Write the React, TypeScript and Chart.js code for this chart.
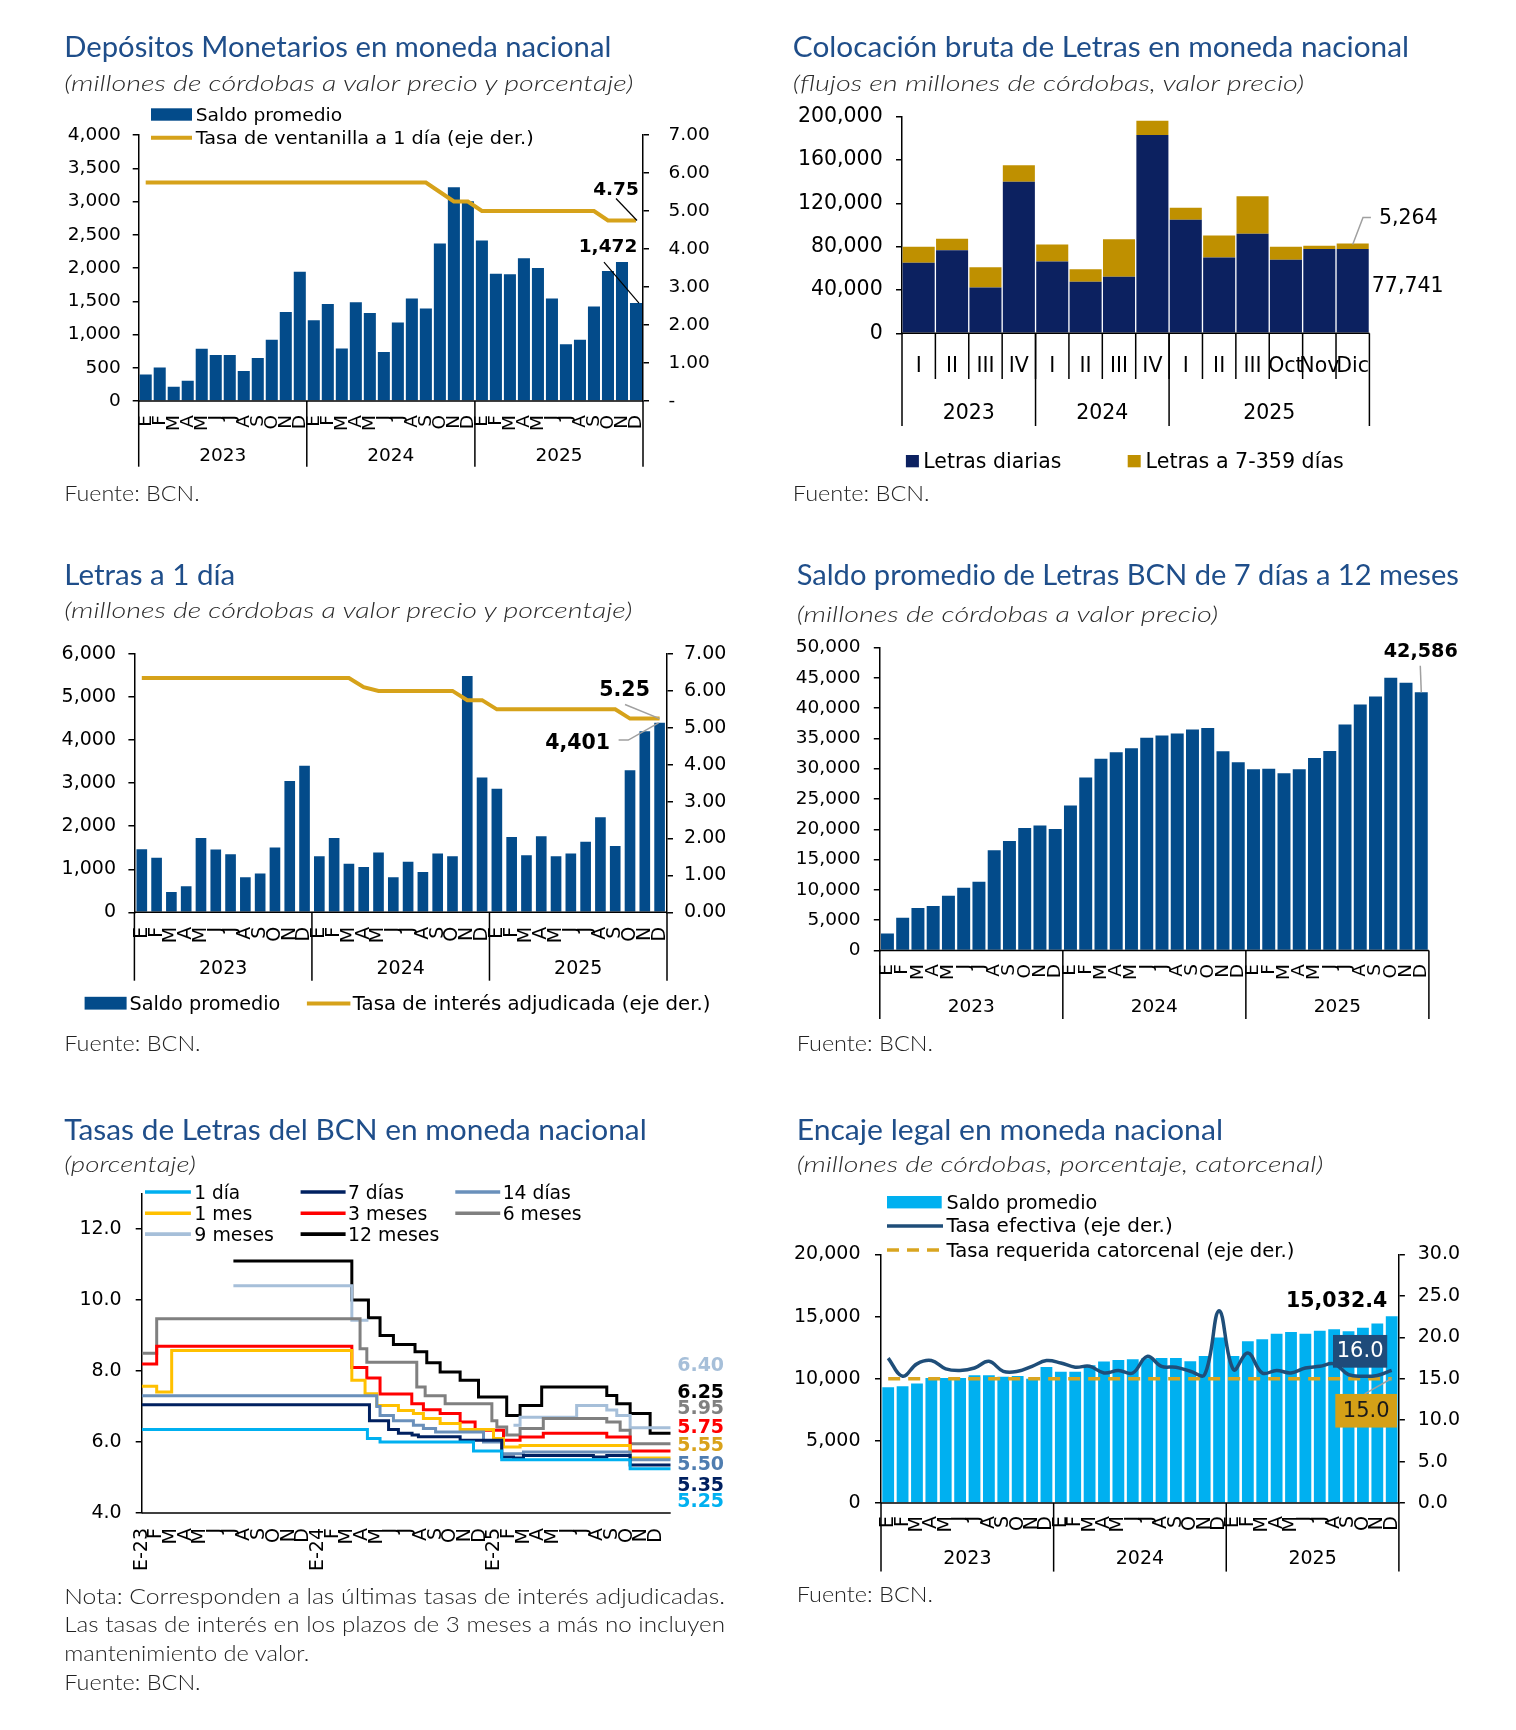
import React, { useEffect, useRef } from 'react';
import { Chart, registerables } from 'chart.js';

Chart.register(...registerables);
Chart.defaults.font.family = '"DejaVu Sans", Verdana, sans-serif';
Chart.defaults.color = '#000';

// ================= DATA =================
const MONTH_LETTERS = ['E', 'F', 'M', 'A', 'M', 'J', 'J', 'A', 'S', 'O', 'N', 'D'];
const MONTHS_36 = [...MONTH_LETTERS, ...MONTH_LETTERS, ...MONTH_LETTERS];
const YEARS = ['2023', '2024', '2025'];
const MONTHS_PER_YEAR = [12, 12, 12];

// Panel 1: Depósitos monetarios
const depositosSaldo = [400, 505, 215, 305, 785, 690, 690, 450, 645, 920, 1340, 1945,
  1215, 1460, 790, 1485, 1325, 735, 1180, 1540, 1390, 2370, 3215, 3005,
  2415, 1915, 1905, 2145, 2000, 1540, 855, 920, 1420, 1955, 2090, 1472];
const depositosTasa = [5.75, 5.75, 5.75, 5.75, 5.75, 5.75, 5.75, 5.75, 5.75, 5.75, 5.75, 5.75,
  5.75, 5.75, 5.75, 5.75, 5.75, 5.75, 5.75, 5.75, 5.75, 5.5, 5.25, 5.25,
  5.0, 5.0, 5.0, 5.0, 5.0, 5.0, 5.0, 5.0, 5.0, 4.75, 4.75, 4.75];

// Panel 2: Colocación bruta
const colocCategorias = ['I', 'II', 'III', 'IV', 'I', 'II', 'III', 'IV', 'I', 'II', 'III', 'Oct', 'Nov', 'Dic'];
const colocAnios = ['2023', '2024', '2025'];
const colocPeriodosPorAnio = [4, 4, 6];
const colocDiarias = [65200, 76600, 42200, 140000, 66200, 47700, 52300, 183100, 104900, 69900, 92000, 68000, 77900, 77741];
const colocPlazo = [14800, 10800, 18700, 15100, 15700, 11400, 34500, 13200, 11100, 20300, 34500, 12000, 3000, 5264];

// Panel 3: Letras a 1 día
const letras1Saldo = [1465, 1270, 470, 605, 1725, 1460, 1350, 815, 900, 1505, 3050, 3405,
  1300, 1725, 1130, 1050, 1390, 815, 1175, 935, 1365, 1300, 5490, 3130,
  2870, 1750, 1325, 1765, 1300, 1365, 1640, 2210, 1540, 3300, 4205, 4401];
const letras1Tasa = [6.35, 6.35, 6.35, 6.35, 6.35, 6.35, 6.35, 6.35, 6.35, 6.35, 6.35, 6.35,
  6.35, 6.35, 6.35, 6.1, 6.0, 6.0, 6.0, 6.0, 6.0, 6.0, 5.75, 5.75,
  5.5, 5.5, 5.5, 5.5, 5.5, 5.5, 5.5, 5.5, 5.5, 5.25, 5.25, 5.25];

// Panel 4: Saldo promedio de Letras 7 días a 12 meses
const letras7Saldo = [2800, 5400, 7000, 7350, 9050, 10350, 11350, 16550, 18050, 20200, 20600, 20050,
  23900, 28550, 31650, 32700, 33350, 35100, 35450, 35800, 36450, 36700, 32850, 31050,
  29900, 30000, 29250, 29900, 31750, 32900, 37300, 40600, 41900, 45000, 44150, 42586];

// Panel 5: Tasas de Letras (change points: [mes desde E-23, tasa])
const tasasMeses = ['E-23', 'F', 'M', 'A', 'M', 'J', 'J', 'A', 'S', 'O', 'N', 'D',
  'E-24', 'F', 'M', 'A', 'M', 'J', 'J', 'A', 'S', 'O', 'N', 'D',
  'E-25', 'F', 'M', 'A', 'M', 'J', 'J', 'A', 'S', 'O', 'N', 'D'];
const tasa1Dia: [number, number | null][] = [[0, 6.35], [15.36, 6.1], [16.22, 6.0], [22.58, 5.75], [24.5, 5.5], [33.24, 5.25], [36, 5.25]];
const tasa7Dias: [number, number | null][] = [[0, 7.05], [15.5, 6.6], [16.8, 6.35], [17.47, 6.25], [18.4, 6.2], [18.83, 6.15], [21.67, 6.05], [24.5, 5.58], [25.3, 5.55], [25.98, 5.62], [30.74, 5.58], [31.65, 5.62], [33.24, 5.35], [36, 5.35]];
const tasa14Dias: [number, number | null][] = [[0, 7.3], [16.0, 7.0], [16.22, 6.75], [17.13, 6.6], [18.49, 6.47], [19.17, 6.38], [20.0, 6.28], [23.26, 6.0], [24.5, 5.67], [25.98, 5.72], [33.24, 5.5], [36, 5.5]];
const tasa1Mes: [number, number | null][] = [[0, 7.57], [1.02, 7.41], [2.04, 8.58], [14.3, 7.74], [15.2, 7.36], [16.0, 7.03], [17.47, 6.89], [18.49, 6.8], [19.17, 6.66], [20.31, 6.52], [21.67, 6.35], [23.94, 6.1], [24.62, 5.86], [25.75, 5.9], [33.24, 5.55], [36, 5.55]];
const tasa3Meses: [number, number | null][] = [[0, 8.2], [1.02, 8.7], [14.3, 8.1], [15.32, 7.8], [16.22, 7.35], [18.38, 7.08], [19.17, 6.91], [20.31, 6.8], [21.67, 6.56], [22.69, 6.33], [24.62, 6.05], [25.75, 6.14], [27.33, 6.25], [31.65, 6.14], [33.24, 5.75], [36, 5.75]];
const tasa6Meses: [number, number | null][] = [[0, 8.5], [1.02, 9.47], [14.86, 8.63], [15.32, 8.25], [18.72, 7.55], [19.29, 7.3], [20.65, 7.08], [23.83, 6.6], [24.17, 6.42], [24.84, 6.2], [25.75, 6.38], [27.33, 6.66], [31.65, 6.56], [32.56, 6.33], [33.24, 5.95], [36, 5.95]];
const tasa9Meses: [number, number | null][] = [[6.24, 10.4], [14.3, 9.43], [15.43, 9.43], [15.44, null], [25.3, 6.47], [25.75, 6.7], [29.6, 7.03], [31.65, 6.9], [32.33, 6.75], [33.24, 6.4], [36, 6.4]];
const tasa12Meses: [number, number | null][] = [[6.24, 11.1], [14.3, 10.0], [15.43, 9.5], [16.22, 9.0], [17.13, 8.75], [18.6, 8.54], [19.4, 8.23], [20.31, 7.97], [21.67, 7.74], [22.92, 7.27], [24.84, 6.75], [25.75, 7.03], [27.22, 7.55], [31.65, 7.31], [32.33, 7.08], [33.24, 6.8], [34.6, 6.25], [36, 6.25]];

// Panel 6: Encaje legal
const encajeSaldo = [9310, 9390, 9610, 10060, 10060, 10060, 10280, 10280, 10170, 10220, 10010, 10950,
  10570, 10570, 11080, 11380, 11510, 11570, 11650, 11670, 11670, 11400, 11830, 13310,
  11830, 13010, 13170, 13630, 13760, 13630, 13870, 13980, 13820, 14110, 14440, 15032.4];
const encajeTasaEfectiva = [17.5, 15.3, 16.8, 17.2, 16.2, 16.0, 16.3, 17.1, 15.9, 15.9, 16.5, 17.2,
  16.9, 16.4, 16.5, 15.7, 16.0, 15.7, 17.7, 16.5, 16.4, 15.9, 15.5, 23.2,
  16.1, 18.1, 15.7, 16.0, 15.7, 16.3, 16.5, 16.8, 15.5, 15.3, 15.4, 16.0];
const encajeTasaRequerida = [15, 15, 15, 15, 15, 15, 15, 15, 15, 15, 15, 15,
  15, 15, 15, 15, 15, 15, 15, 15, 15, 15, 15, 15,
  15, 15, 15, 15, 15, 15, 15, 15, 15, 15, 15, 15];

// ================= STYLES =================
const BAR_BLUE = '#034B8A';
const GOLD = '#D6A21A';
const NAVY = '#0C2160';
const GOLD2 = '#BF9000';
const CYAN = '#00B0F0';
const LINE_BLUE = '#1F4E79';
const TITLE_COLOR = '#1F4E8A';
const TITLE_FONT = 'Lato, "Open Sans", sans-serif';
const TICK_FONT = '"DejaVu Sans", Verdana, sans-serif';

const fmtInt = (v: number) => Math.round(v).toLocaleString('en-US');

const baseOpts: any = {
  responsive: false,
  maintainAspectRatio: false,
  animation: false,
  events: [],
  plugins: { legend: { display: false }, tooltip: { enabled: false } },
};

function yAx(position: string, min: number, max: number, step: number, width: number, pad: number, size: number, fmt: (v: number) => string, extra: any = {}) {
  return {
    type: 'linear',
    position,
    min,
    max,
    ticks: { stepSize: step, padding: pad, font: { size }, color: '#000', autoSkip: false, callback: (v: any) => fmt(Number(v)) },
    grid: { display: true, drawOnChartArea: false, drawTicks: true, tickLength: 6, color: '#000', lineWidth: 1.5 },
    border: { display: true, color: '#000', width: 1.5 },
    afterFit: (s: any) => {
      s.width = width;
      s.paddingTop = 0;
      s.paddingBottom = 0;
      s.paddingLeft = 0;
      s.paddingRight = 0;
    },
    ...extra,
  };
}

// grouped category x-axis drawn below chart area
function groupedAxis(o: { labels: string[]; groups: string[]; counts: number[]; rotate: boolean; labelOff: number; groupOff: number; sepOff: number; innerSepOff?: number; size: number }) {
  return {
    id: 'groupedAxis',
    afterDraw(chart: any) {
      const { ctx, chartArea: a } = chart;
      const n = o.labels.length;
      const w = (a.right - a.left) / n;
      ctx.save();
      ctx.strokeStyle = '#000';
      ctx.lineWidth = 1.5;
      ctx.beginPath();
      ctx.moveTo(a.left, a.bottom);
      ctx.lineTo(a.right, a.bottom);
      ctx.stroke();
      ctx.fillStyle = '#000';
      ctx.font = `${o.size}px ${TICK_FONT}`;
      o.labels.forEach((lab, i) => {
        const cx = a.left + (i + 0.5) * w;
        if (o.rotate) {
          ctx.save();
          ctx.translate(cx, a.bottom + o.labelOff);
          ctx.rotate(-Math.PI / 2);
          ctx.textAlign = 'right';
          ctx.textBaseline = 'middle';
          ctx.fillText(lab, 0, 0);
          ctx.restore();
        } else {
          ctx.textAlign = 'center';
          ctx.textBaseline = 'middle';
          ctx.fillText(lab, cx, a.bottom + o.labelOff);
        }
      });
      if (o.innerSepOff) {
        for (let k = 1; k < n; k++) {
          const x = a.left + k * w;
          ctx.beginPath();
          ctx.moveTo(x, a.bottom);
          ctx.lineTo(x, a.bottom + o.innerSepOff);
          ctx.stroke();
        }
      }
      let k = 0;
      const drawSep = (idx: number) => {
        const x = a.left + idx * w;
        ctx.beginPath();
        ctx.moveTo(x, a.bottom);
        ctx.lineTo(x, a.bottom + o.sepOff);
        ctx.stroke();
      };
      drawSep(0);
      o.groups.forEach((g, gi) => {
        const start = k;
        k += o.counts[gi];
        drawSep(k);
        const cx = a.left + ((start + k) / 2) * w;
        ctx.textAlign = 'center';
        ctx.textBaseline = 'middle';
        ctx.fillText(g, cx, a.bottom + o.groupOff);
      });
      ctx.restore();
    },
  };
}

function leader(ctx: any, pts: number[][], color: string, width = 1.2) {
  ctx.save();
  ctx.strokeStyle = color;
  ctx.lineWidth = width;
  ctx.beginPath();
  ctx.moveTo(pts[0][0], pts[0][1]);
  for (let i = 1; i < pts.length; i++) ctx.lineTo(pts[i][0], pts[i][1]);
  ctx.stroke();
  ctx.restore();
}

// ================= CHARTS =================
function makeDepositos(c: HTMLCanvasElement) {
  const annot = {
    id: 'annotDep',
    afterDatasetsDraw(chart: any) {
      const ctx = chart.ctx;
      const pt = chart.getDatasetMeta(0).data[35];
      const bar = chart.getDatasetMeta(1).data[35];
      ctx.save();
      ctx.fillStyle = '#000';
      ctx.font = `bold 18.5px ${TICK_FONT}`;
      ctx.textAlign = 'center';
      ctx.textBaseline = 'alphabetic';
      ctx.fillText(depositosTasa[35].toFixed(2), pt.x - 20, pt.y - 25.5);
      ctx.fillText(fmtInt(depositosSaldo[35]), bar.x - 28, bar.y - 51.5);
      ctx.restore();
      leader(ctx, [[pt.x - 20, pt.y - 22], [pt.x + 1, pt.y]], '#000');
      leader(ctx, [[bar.x - 32, bar.y - 41], [bar.x + 3, bar.y]], '#000');
    },
  };
  return new Chart(c, {
    type: 'bar',
    data: {
      labels: MONTHS_36,
      datasets: [
        { type: 'line', data: depositosTasa, yAxisID: 'y1', borderColor: GOLD, borderWidth: 4, pointRadius: 0, tension: 0, order: 0 } as any,
        { type: 'bar', data: depositosSaldo, yAxisID: 'y', backgroundColor: BAR_BLUE, barPercentage: 0.86, categoryPercentage: 1, order: 1 },
      ],
    },
    options: {
      ...baseOpts,
      layout: { padding: { top: 20, bottom: 79, left: 0, right: 0 } },
      scales: {
        x: { display: false },
        y: yAx('left', 0, 4000, 500, 98.7, 12, 18.5, fmtInt),
        y1: yAx('right', 0, 7, 1, 87, 19.6, 18.5, (v) => (v === 0 ? '-' : v.toFixed(2))),
      },
    },
    plugins: [groupedAxis({ labels: MONTHS_36, groups: YEARS, counts: MONTHS_PER_YEAR, rotate: true, labelOff: 14, groupOff: 55, sepOff: 65.7, size: 18.5 }), annot],
  } as any);
}

function makeColocacion(c: HTMLCanvasElement) {
  const annot = {
    id: 'annotColoc',
    afterDatasetsDraw(chart: any) {
      const ctx = chart.ctx;
      const navy = chart.getDatasetMeta(0).data[13];
      const gold = chart.getDatasetMeta(1).data[13];
      leader(ctx, [[gold.x, gold.y + 1], [gold.x + 10.3, gold.y - 26], [gold.x + 18.2, gold.y - 26]], '#A0A0A0', 1.5);
      ctx.save();
      ctx.fillStyle = '#000';
      ctx.font = `20.5px ${TICK_FONT}`;
      ctx.textAlign = 'left';
      ctx.textBaseline = 'alphabetic';
      ctx.fillText(fmtInt(colocPlazo[13]), gold.x + 26.3, gold.y - 19.4);
      ctx.fillText(fmtInt(colocDiarias[13]), navy.x + 19.1, (navy.y + navy.base) / 2 + 1.5);
      ctx.restore();
    },
  };
  return new Chart(c, {
    type: 'bar',
    data: {
      labels: colocCategorias,
      datasets: [
        { data: colocDiarias, backgroundColor: NAVY, barPercentage: 0.96, categoryPercentage: 1 },
        { data: colocPlazo, backgroundColor: GOLD2, barPercentage: 0.96, categoryPercentage: 1 },
      ],
    },
    options: {
      ...baseOpts,
      layout: { padding: { top: 16.7, bottom: 106.7, left: 0, right: 80.6 } },
      scales: {
        x: { display: false, stacked: true },
        y: yAx('left', 0, 200000, 40000, 112, 13.3, 20.5, fmtInt, { stacked: true }),
      },
    },
    plugins: [groupedAxis({ labels: colocCategorias, groups: colocAnios, counts: colocPeriodosPorAnio, rotate: false, labelOff: 33.4, groupOff: 80, sepOff: 92.7, innerSepOff: 45.7, size: 20.5 }), annot],
  } as any);
}

function makeLetras1(c: HTMLCanvasElement) {
  const annot = {
    id: 'annotL1',
    afterDatasetsDraw(chart: any) {
      const ctx = chart.ctx;
      const pt = chart.getDatasetMeta(0).data[35];
      const bar = chart.getDatasetMeta(1).data[35];
      leader(ctx, [[pt.x - 34.6, pt.y - 14.1], [pt.x, pt.y]], '#A0A0A0', 1.5);
      leader(ctx, [[bar.x - 41, bar.y + 17.2], [bar.x - 31.3, bar.y + 17.2], [bar.x - 1, bar.y]], '#A0A0A0', 1.5);
      ctx.save();
      ctx.fillStyle = '#000';
      ctx.font = `bold 20.5px ${TICK_FONT}`;
      ctx.textAlign = 'center';
      ctx.textBaseline = 'alphabetic';
      ctx.fillText(letras1Tasa[35].toFixed(2), pt.x - 35, pt.y - 22.6);
      ctx.fillText(fmtInt(letras1Saldo[35]), bar.x - 82, bar.y + 26);
      ctx.restore();
    },
  };
  return new Chart(c, {
    type: 'bar',
    data: {
      labels: MONTHS_36,
      datasets: [
        { type: 'line', data: letras1Tasa, yAxisID: 'y1', borderColor: GOLD, borderWidth: 4, pointRadius: 0, tension: 0, order: 0 } as any,
        { type: 'bar', data: letras1Saldo, yAxisID: 'y', backgroundColor: BAR_BLUE, barPercentage: 0.72, categoryPercentage: 1, order: 1 },
      ],
    },
    options: {
      ...baseOpts,
      layout: { padding: { top: 19, bottom: 82.7, left: 0, right: 0 } },
      scales: {
        x: { display: false },
        y: yAx('left', 0, 6000, 1000, 104.4, 12.4, 19, fmtInt),
        y1: yAx('right', 0, 7, 1, 83, 11, 19, (v) => v.toFixed(2)),
      },
    },
    plugins: [groupedAxis({ labels: MONTHS_36, groups: YEARS, counts: MONTHS_PER_YEAR, rotate: true, labelOff: 14.5, groupOff: 56.7, sepOff: 68.4, size: 19 }), annot],
  } as any);
}

function makeLetras7(c: HTMLCanvasElement) {
  const annot = {
    id: 'annotL7',
    afterDatasetsDraw(chart: any) {
      const ctx = chart.ctx;
      const bar = chart.getDatasetMeta(0).data[35];
      leader(ctx, [[bar.x - 1, bar.y - 26.6], [bar.x, bar.y]], '#A0A0A0', 1.5);
      ctx.save();
      ctx.fillStyle = '#000';
      ctx.font = `bold 19.2px ${TICK_FONT}`;
      ctx.textAlign = 'center';
      ctx.textBaseline = 'alphabetic';
      ctx.fillText(fmtInt(letras7Saldo[35]), bar.x - 0.5, bar.y - 35.7);
      ctx.restore();
    },
  };
  return new Chart(c, {
    type: 'bar',
    data: {
      labels: MONTHS_36,
      datasets: [{ data: letras7Saldo, backgroundColor: BAR_BLUE, barPercentage: 0.85, categoryPercentage: 1 }],
    },
    options: {
      ...baseOpts,
      layout: { padding: { top: 17.4, bottom: 79.5, left: 0, right: 61.1 } },
      scales: {
        x: { display: false },
        y: yAx('left', 0, 50000, 5000, 99.8, 13.3, 18.5, fmtInt),
      },
    },
    plugins: [groupedAxis({ labels: MONTHS_36, groups: YEARS, counts: MONTHS_PER_YEAR, rotate: true, labelOff: 13.5, groupOff: 56.7, sepOff: 68.5, size: 18.5 }), annot],
  } as any);
}

const tasasSeries = [
  { points: tasa1Dia, color: '#00B0F0', labelColor: '#00B0F0', dy: 33.1 },
  { points: tasa7Dias, color: '#002060', labelColor: '#002060', dy: 20.9 },
  { points: tasa14Dias, color: '#6A90BB', labelColor: '#4F7DB0', dy: 5.3 },
  { points: tasa1Mes, color: '#FFC000', labelColor: '#D9A21B', dy: -12.3 },
  { points: tasa3Meses, color: '#FF0000', labelColor: '#FF0000', dy: -22.6 },
  { points: tasa6Meses, color: '#808080', labelColor: '#808080', dy: -34.5 },
  { points: tasa9Meses, color: '#A6BFD9', labelColor: '#A6BFD9', dy: -61.8 },
  { points: tasa12Meses, color: '#000000', labelColor: '#000000', dy: -39.8 },
];

function makeTasas(c: HTMLCanvasElement) {
  const axis = {
    id: 'tasasAxis',
    afterDraw(chart: any) {
      const { ctx, chartArea: a, scales } = chart;
      ctx.save();
      ctx.strokeStyle = '#000';
      ctx.lineWidth = 1.5;
      ctx.beginPath();
      ctx.moveTo(a.left, a.bottom);
      ctx.lineTo(a.right, a.bottom);
      ctx.stroke();
      ctx.fillStyle = '#000';
      ctx.font = `19px ${TICK_FONT}`;
      tasasMeses.forEach((lab, i) => {
        const px = scales.x.getPixelForValue(i);
        ctx.save();
        ctx.translate(px, a.bottom + 15);
        ctx.rotate(-Math.PI / 2);
        ctx.textAlign = 'right';
        ctx.textBaseline = 'middle';
        ctx.fillText(lab, 0, 0);
        ctx.restore();
      });
      ctx.restore();
    },
    afterDatasetsDraw(chart: any) {
      const { ctx, chartArea: a } = chart;
      ctx.save();
      ctx.font = `bold 19px ${TICK_FONT}`;
      ctx.textAlign = 'left';
      ctx.textBaseline = 'middle';
      tasasSeries.forEach((s, i) => {
        const meta = chart.getDatasetMeta(i);
        const last = meta.data[meta.data.length - 1];
        const val = s.points[s.points.length - 1][1] as number;
        ctx.fillStyle = s.labelColor;
        ctx.fillText(val.toFixed(2), a.right + 6.5, last.y + s.dy);
      });
      ctx.restore();
    },
  };
  return new Chart(c, {
    type: 'line',
    data: {
      datasets: tasasSeries.map((s) => ({
        data: s.points.map(([x, y]) => ({ x, y })),
        borderColor: s.color,
        borderWidth: 3,
        pointRadius: 0,
        stepped: 'before',
        spanGaps: false,
        borderCapStyle: 'butt',
        borderJoinStyle: 'miter',
      })),
    },
    options: {
      ...baseOpts,
      layout: { padding: { top: 13.5, bottom: 67, left: 0, right: 69.3 } },
      scales: {
        x: { type: 'linear', min: 0, max: 36, display: false },
        y: yAx('left', 4, 13, 2, 101.7, 14, 19, (v) => v.toFixed(1), {
          afterBuildTicks: (s: any) => { s.ticks = s.ticks.filter((t: any) => t.value % 2 === 0); },
        }),
      },
    },
    plugins: [axis],
  } as any);
}

function makeEncaje(c: HTMLCanvasElement) {
  const annot = {
    id: 'annotEnc',
    afterDatasetsDraw(chart: any) {
      const ctx = chart.ctx;
      const ef = chart.getDatasetMeta(0).data[35];
      const rq = chart.getDatasetMeta(1).data[35];
      const bar = chart.getDatasetMeta(2).data[35];
      ctx.save();
      ctx.fillStyle = '#000';
      ctx.font = `bold 20.5px ${TICK_FONT}`;
      ctx.textAlign = 'right';
      ctx.textBaseline = 'alphabetic';
      ctx.fillText(encajeSaldo[35].toLocaleString('en-US', { minimumFractionDigits: 1, maximumFractionDigits: 1 }), bar.x - 4.5, bar.y - 9);
      ctx.fillStyle = '#1F4B7A';
      ctx.fillRect(ef.x - 58.7, ef.y - 35.5, 54.2, 32.7);
      ctx.fillStyle = '#fff';
      ctx.font = `21px ${TICK_FONT}`;
      ctx.textAlign = 'center';
      ctx.textBaseline = 'middle';
      ctx.fillText(encajeTasaEfectiva[35].toFixed(1), ef.x - 31.6, ef.y - 18.6);
      ctx.restore();
      leader(ctx, [[rq.x - 27, rq.y + 15.2], [rq.x - 0.5, rq.y]], '#A0A0A0', 1.5);
      ctx.save();
      ctx.fillStyle = '#D4A017';
      ctx.fillRect(rq.x - 56.4, rq.y + 15.2, 61.7, 33.6);
      ctx.fillStyle = '#1A1A1A';
      ctx.font = `21px ${TICK_FONT}`;
      ctx.textAlign = 'center';
      ctx.textBaseline = 'middle';
      ctx.fillText(encajeTasaRequerida[35].toFixed(1), rq.x - 25.5, rq.y + 32.5);
      ctx.restore();
    },
  };
  return new Chart(c, {
    type: 'bar',
    data: {
      labels: MONTHS_36,
      datasets: [
        { type: 'line', data: encajeTasaEfectiva, yAxisID: 'y1', borderColor: LINE_BLUE, borderWidth: 3.5, pointRadius: 0, tension: 0.4, order: 0 } as any,
        { type: 'line', data: encajeTasaRequerida, yAxisID: 'y1', borderColor: '#D9A520', borderWidth: 3.5, borderDash: [12, 8], pointRadius: 0, tension: 0, order: 1 } as any,
        { type: 'bar', data: encajeSaldo, yAxisID: 'y', backgroundColor: CYAN, barPercentage: 0.82, categoryPercentage: 1, order: 2 },
      ],
    },
    options: {
      ...baseOpts,
      layout: { padding: { top: 14.5, bottom: 82, left: 0, right: 0 } },
      scales: {
        x: { display: false },
        y: yAx('left', 0, 20000, 5000, 101, 14.5, 19, fmtInt),
        y1: yAx('right', 0, 30, 5, 101.1, 12.8, 19, (v) => v.toFixed(1)),
      },
    },
    plugins: [groupedAxis({ labels: MONTHS_36, groups: YEARS, counts: MONTHS_PER_YEAR, rotate: true, labelOff: 13, groupOff: 56.4, sepOff: 68.6, size: 19 }), annot],
  } as any);
}

// ================= COMPONENTS =================
function ChartBox({ x, y, w, h, make }: { x: number; y: number; w: number; h: number; make: (c: HTMLCanvasElement) => Chart }) {
  const ref = useRef<HTMLCanvasElement>(null);
  useEffect(() => {
    const chart = make(ref.current as HTMLCanvasElement);
    return () => chart.destroy();
  }, []);
  return <canvas ref={ref} width={w} height={h} style={{ position: 'absolute', left: x, top: y, width: w, height: h }} />;
}

function Txt({ x, y, len, size, children, italic, weight, color, family }: any) {
  return (
    <text x={x} y={y} fontSize={size} textLength={len} lengthAdjust="spacingAndGlyphs"
      fontStyle={italic ? 'italic' : 'normal'} fontWeight={weight || 400} fill={color || '#000'} fontFamily={family || TICK_FONT}>
      {children}
    </text>
  );
}

const Title = ({ x, y, len, children }: any) => <Txt x={x} y={y} len={len} size={28.5} color={TITLE_COLOR} family={TITLE_FONT}>{children}</Txt>;
const Sub = ({ x, y, len, children }: any) => <Txt x={x} y={y} len={len} size={22} italic weight={300} color="#2A2A2A" family={TITLE_FONT}>{children}</Txt>;
const Note = ({ x, y, len, children }: any) => <Txt x={x} y={y} len={len} size={22} weight={300} color="#222" family={TITLE_FONT}>{children}</Txt>;

export default function App() {
  return (
    <div style={{ position: 'absolute', left: 0, top: 0, width: 1516, height: 1730, background: '#fff', overflow: 'hidden' }}>
      <ChartBox x={40} y={115} w={690} h={365} make={makeDepositos} />
      <ChartBox x={790} y={100} w={660} h={340} make={makeColocacion} />
      <ChartBox x={30} y={635} w={720} h={360} make={makeLetras1} />
      <ChartBox x={780} y={630} w={710} h={400} make={makeLetras7} />
      <ChartBox x={40} y={1180} w={700} h={400} make={makeTasas} />
      <ChartBox x={780} y={1240} w={720} h={345} make={makeEncaje} />
      <svg width={1516} height={1730} style={{ position: 'absolute', left: 0, top: 0, pointerEvents: 'none' }}>
        {/* Panel 1 */}
        <Title x={64.3} y={57.3} len={547}>Depósitos Monetarios en moneda nacional</Title>
        <Sub x={64.3} y={90.7} len={569}>(millones de córdobas a valor precio y porcentaje)</Sub>
        <rect x={151} y={108.3} width={41} height={12.4} fill={BAR_BLUE} />
        <Txt x={195.7} y={121} len={146.5} size={18.5}>Saldo promedio</Txt>
        <line x1={151} x2={192} y1={137.7} y2={137.7} stroke={GOLD} strokeWidth={4} />
        <Txt x={195.7} y={144} len={338} size={18.5}>Tasa de ventanilla a 1 día (eje der.)</Txt>
        <Note x={64.3} y={501} len={135.3}>Fuente: BCN.</Note>

        {/* Panel 2 */}
        <Title x={792.8} y={57.3} len={616.2}>Colocación bruta de Letras en moneda nacional</Title>
        <Sub x={792.8} y={90.7} len={511.4}>(flujos en millones de córdobas, valor precio)</Sub>
        <rect x={905.9} y={455} width={13} height={12.3} fill={NAVY} />
        <Txt x={923.3} y={468} len={138.2} size={20.5}>Letras diarias</Txt>
        <rect x={1127.7} y={455} width={13} height={12.3} fill={GOLD2} />
        <Txt x={1145.6} y={468} len={198.2} size={20.5}>Letras a 7-359 días</Txt>
        <Note x={792.8} y={501} len={136.8}>Fuente: BCN.</Note>

        {/* Panel 3 */}
        <Title x={64.3} y={584.6} len={171}>Letras a 1 día</Title>
        <Sub x={64.3} y={618.4} len={568}>(millones de córdobas a valor precio y porcentaje)</Sub>
        <rect x={84.6} y={996.8} width={42} height={12.8} fill={BAR_BLUE} />
        <Txt x={129.5} y={1010} len={150.8} size={19}>Saldo promedio</Txt>
        <line x1={306.9} x2={350.4} y1={1003.5} y2={1003.5} stroke={GOLD} strokeWidth={4} />
        <Txt x={352.8} y={1010} len={357.7} size={19}>Tasa de interés adjudicada (eje der.)</Txt>
        <Note x={64.3} y={1050.8} len={136.3}>Fuente: BCN.</Note>

        {/* Panel 4 */}
        <Title x={796.7} y={584.6} len={662.2}>Saldo promedio de Letras BCN de 7 días a 12 meses</Title>
        <Sub x={796.7} y={621.8} len={421.5}>(millones de córdobas a valor precio)</Sub>
        <Note x={796.7} y={1050.8} len={136.3}>Fuente: BCN.</Note>

        {/* Panel 5 */}
        <Title x={64.3} y={1139.8} len={582.4}>Tasas de Letras del BCN en moneda nacional</Title>
        <Sub x={64.3} y={1171.6} len={131.5}>(porcentaje)</Sub>
        <line x1={145} x2={190.9} y1={1192} y2={1192} stroke="#00B0F0" strokeWidth={3.6} />
        <Txt x={194.3} y={1198.5} len={45.9} size={19}>1 día</Txt>
        <line x1={300.6} x2={345.6} y1={1192} y2={1192} stroke="#002060" strokeWidth={3.6} />
        <Txt x={348} y={1198.5} len={56} size={19}>7 días</Txt>
        <line x1={455.3} x2={500.2} y1={1192} y2={1192} stroke="#6A90BB" strokeWidth={3.6} />
        <Txt x={502.7} y={1198.5} len={68.2} size={19}>14 días</Txt>
        <line x1={145} x2={190.9} y1={1213.3} y2={1213.3} stroke="#FFC000" strokeWidth={3.6} />
        <Txt x={194.3} y={1219.8} len={58} size={19}>1 mes</Txt>
        <line x1={300.6} x2={345.6} y1={1213.3} y2={1213.3} stroke="#FF0000" strokeWidth={3.6} />
        <Txt x={348} y={1219.8} len={79.3} size={19}>3 meses</Txt>
        <line x1={455.3} x2={500.2} y1={1213.3} y2={1213.3} stroke="#808080" strokeWidth={3.6} />
        <Txt x={502.7} y={1219.8} len={78.8} size={19}>6 meses</Txt>
        <line x1={145} x2={190.9} y1={1234.1} y2={1234.1} stroke="#A6BFD9" strokeWidth={3.6} />
        <Txt x={194.3} y={1240.6} len={79.7} size={19}>9 meses</Txt>
        <line x1={300.6} x2={345.6} y1={1234.1} y2={1234.1} stroke="#000000" strokeWidth={3.6} />
        <Txt x={348} y={1240.6} len={91.3} size={19}>12 meses</Txt>
        <Note x={64.3} y={1603.5} len={660.7}>Nota: Corresponden a las últimas tasas de interés adjudicadas.</Note>
        <Note x={64.3} y={1632} len={660.7}>Las tasas de interés en los plazos de 3 meses a más no incluyen</Note>
        <Note x={64.3} y={1660.6} len={245}>mantenimiento de valor.</Note>
        <Note x={64.3} y={1690} len={136.3}>Fuente: BCN.</Note>

        {/* Panel 6 */}
        <Title x={796.7} y={1139.8} len={426.3}>Encaje legal en moneda nacional</Title>
        <Sub x={796.7} y={1171.6} len={526.8}>(millones de córdobas, porcentaje, catorcenal)</Sub>
        <rect x={887} y={1196} width={54.7} height={12.4} fill={CYAN} />
        <Txt x={946.5} y={1208.7} len={150.8} size={19}>Saldo promedio</Txt>
        <line x1={887} x2={943} y1={1225.9} y2={1225.9} stroke={LINE_BLUE} strokeWidth={3.5} />
        <Txt x={946.5} y={1232.4} len={226.2} size={19}>Tasa efectiva (eje der.)</Txt>
        <line x1={887} x2={943} y1={1250} y2={1250} stroke="#D9A520" strokeWidth={3.5} strokeDasharray="12 8" />
        <Txt x={946.5} y={1256.5} len={348} size={19}>Tasa requerida catorcenal (eje der.)</Txt>
        <Note x={796.7} y={1602.2} len={136.3}>Fuente: BCN.</Note>
      </svg>
    </div>
  );
}
